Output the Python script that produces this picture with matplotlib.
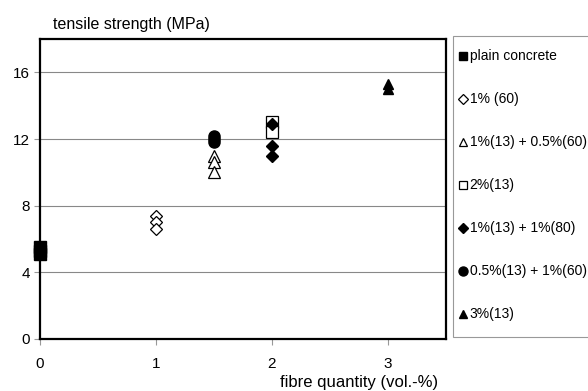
import matplotlib
matplotlib.use("Agg")
import matplotlib.pyplot as plt
from matplotlib.lines import Line2D
from matplotlib.patches import Rectangle

plt.rcParams['font.family'] = ['Liberation Sans', 'DejaVu Sans']

# fibre quantity (vol.-%) and tensile strength (MPa) per mix
plain_x = [0, 0, 0]
plain_y = [5.1, 5.3, 5.5]

f60_x = [1, 1, 1]
f60_y = [7.4, 7.0, 6.6]

f13_f60_x = [1.5, 1.5, 1.5]
f13_f60_y = [11.0, 10.6, 10.0]

f13_2_x = [2, 2]
f13_2_y = [13.0, 12.4]

f13_f80_x = [2, 2, 2]
f13_f80_y = [12.9, 11.6, 11.0]

f05_f60_x = [1.5, 1.5, 1.5]
f05_f60_y = [12.2, 12.0, 11.8]

f13_3_x = [3, 3]
f13_3_y = [15.3, 15.0]

labels = ["plain concrete", "1% (60)", "1%(13) + 0.5%(60)", "2%(13)",
          "1%(13) + 1%(80)", "0.5%(13) + 1%(60)", "3%(13)"]
x_ticks = [0, 1, 2, 3]
y_ticks = [0, 4, 8, 12, 16]

W, H = 588, 391
fig = plt.figure(figsize=(W/100, H/100), dpi=100)
ax = fig.add_axes([40/W, 1-339/H, 406/W, 300/H])

ax.set_xlim(0, 3.5)
ax.set_ylim(0, 18)
ax.set_xticks(x_ticks)
ax.set_yticks(y_ticks)
ax.grid(axis='y', color='#888888', linewidth=0.8)
ax.set_axisbelow(True)
for s in ax.spines.values():
    s.set_linewidth(1.6)
    s.set_color('black')
ax.tick_params(axis='both', labelsize=11, length=4, color='#999999', width=0.8)
ax.tick_params(axis='x', pad=9)
ax.tick_params(axis='y', pad=3)

specs = [
    (plain_x, plain_y, dict(marker='s', ms=8, mfc='black', mec='black')),
    (f60_x, f60_y, dict(marker='D', ms=6, mfc='white', mec='black', mew=0.9)),
    (f13_f60_x, f13_f60_y, dict(marker='^', ms=8, mfc='white', mec='black', mew=0.9)),
    (f13_2_x, f13_2_y, dict(marker='s', ms=8, mfc='white', mec='black', mew=0.9)),
    (f13_f80_x, f13_f80_y, dict(marker='D', ms=6.5, mfc='black', mec='black')),
    (f05_f60_x, f05_f60_y, dict(marker='o', ms=8, mfc='black', mec='black')),
    (f13_3_x, f13_3_y, dict(marker='^', ms=7.5, mfc='black', mec='black')),
]
for xs, ys, st in specs:
    ax.plot(xs, ys, linestyle='none', clip_on=False, zorder=3, **st)

fig.text(53/W, 1-24/H, "tensile strength (MPa)", fontsize=11.5, va='center', ha='left')
fig.text(359/W, 1-383/H, "fibre quantity (vol.-%)", fontsize=12, va='center', ha='center')

# legend box drawn at figure level, running off the right edge
fig.patches.append(Rectangle((453/W, 1-337/H), 160/W, 301/H, transform=fig.transFigure,
                             facecolor='white', edgecolor='#999999', linewidth=0.8))
leg_sizes = [6, 5, 6, 6, 5, 6.5, 6]
row0, row_step = 56, 43
for i, ((xs, ys, st), sz, lab) in enumerate(zip(specs, leg_sizes, labels)):
    st2 = dict(st)
    st2['ms'] = sz
    yy = 1 - (row0 + i*row_step)/H
    fig.lines.append(Line2D([463/W], [yy], transform=fig.transFigure,
                            linestyle='none', **st2))
    fig.text(469.5/W, yy, lab, fontsize=10, va='center', ha='left')

fig.savefig("out.png", dpi=100)
